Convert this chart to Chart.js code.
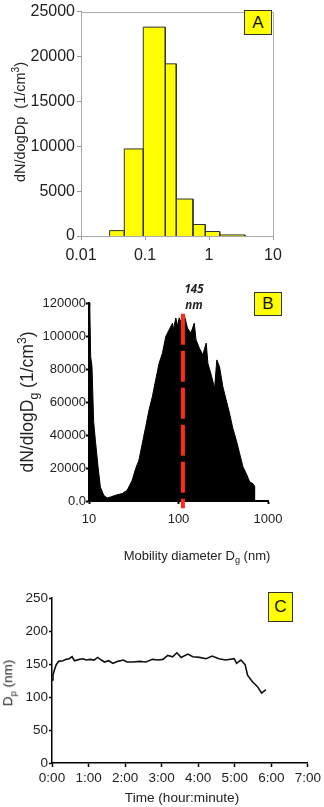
<!DOCTYPE html>
<html>
<head>
<meta charset="utf-8">
<script src="https://cdn.jsdelivr.net/npm/chart.js@4/dist/chart.umd.min.js"></script>
<style>
body{margin:0;background:#fff;width:324px;height:807px;position:relative;overflow:hidden;font-family:"Liberation Sans",Arial,sans-serif;color:#222}
.panel{position:absolute;left:0;width:324px}
.t{position:absolute;white-space:nowrap;line-height:1}
.rot{transform:translate(-50%,-50%) rotate(-90deg)}
.ctr{transform:translate(-50%,-50%)}
.box{position:absolute;background:#ffff00;border:1px solid #333;box-sizing:border-box;display:flex;align-items:center;justify-content:center;font-size:17px;color:#111}
sub,sup{font-size:70%;line-height:0}
</style>
</head>
<body>
<div class="panel" style="top:0;height:270px"><canvas id="chA" width="324" height="270"></canvas></div>
<div class="panel" style="top:270px;height:270px"><canvas id="chB" width="324" height="270"></canvas></div>
<div class="panel" style="top:540px;height:267px"><canvas id="chC" width="324" height="267"></canvas></div>

<div class="t rot" style="left:20px;top:122px;font-size:14.5px">dN/dogDp&nbsp; (1/cm<sup>3</sup>)</div>
<div class="box" style="left:244px;top:10px;width:28px;height:25px">A</div>

<div class="t rot" style="left:28px;top:402px;font-size:17.5px">dN/dlogD<sub>g</sub> (1/cm<sup>3</sup>)</div>
<div class="t ctr" style="left:197px;top:555px;font-size:13px">Mobility diameter D<sub>g</sub> (nm)</div>
<div class="t ctr" style="left:194px;top:289px;font-size:11.5px;font-weight:bold;font-style:italic;font-family:'Open Sans',sans-serif;color:#222">145</div>
<div class="t ctr" style="left:194px;top:305px;font-size:11.5px;font-weight:bold;font-style:italic;font-family:'Open Sans',sans-serif;color:#222">nm</div>
<div class="box" style="left:254px;top:292px;width:28px;height:24px">B</div>

<div class="t rot" style="left:8px;top:683px;font-size:13.5px">D<sub>p</sub> (nm)</div>
<div class="t ctr" style="left:182px;top:798px;font-size:13.6px">Time (hour:minute)</div>
<div class="box" style="left:268px;top:592px;width:25px;height:30px">C</div>

<script>
// panel A - size histogram (bin edges in um)
const aBinEdges=[0.028,0.0475,0.094,0.2075,0.308,0.562,0.875,1.47,3.65]
const aCounts=[600,9700,23270,19180,4120,1280,500,120]
const aXTicks=[0.01,0.1,1,10]
const aXLabels=["0.01","0.1","1","10"]

// panel B - SMPS distribution envelope
const bDiameter=[10,10.2,10.44,10.8,11.27,11.78,12.62,13.4,14.6,15.9,17.4,19.8,23.5,26.7,30.4,33.2,36.1,39.4,43,46.8,51,55.6,60.7,66.1,72.1,78.6,85.7,88,93.3,98,101.7,108,115.8,126,137.7,150,157,171,187,204,213,232,253,268,287,313,341,372,405,442,482,525,572,624,680,708,708]
const bCounts=[120000,118000,87600,81500,48000,36900,20700,8500,3500,1800,2400,3500,4500,6500,12600,19700,24700,34900,45000,55100,63200,73400,83500,89600,99700,103800,107800,104000,110900,106000,111000,108000,112900,104800,101800,107800,97700,92600,88600,95700,83500,76400,68300,85500,81500,69300,61200,53100,44000,36900,28800,20700,16600,11600,10500,9000,0]
const bXTicks=[10,100,1000]
const bXLabels=["10","100","1000"]
const bModeDiameter=112
const bModeLine=[113500,-4400]

// panel C - Dp vs time (minutes)
const cTime=[0,1.6,3.6,7,11,18,23,28,33,37,45,51,56,63,69,75,81,86,93,100,108,117,123,133,144,154,165,174,182,190,198,205,212,223,231,242,253,263,274,285,299,303,310,317,321,329,337,344,348,351]
const cDp=[126,133,140,149,154,155,157,158,161,155,157,158,156,157,156,160,156,153,155,151,154,156,153,153,154,153,157,156,157,163,161,167,160,165,161,160,158,162,158,156,158,151,156,149,133,123,116,106,109,111]

const FONT='"Liberation Sans", Arial, sans-serif'

const frame={
id:"frame",
afterDatasetsDraw(chart,args,opts){
if(!opts.color)return
const a=chart.chartArea,ctx=chart.ctx
ctx.save()
ctx.strokeStyle=opts.color
ctx.lineWidth=1
ctx.strokeRect(Math.round(a.left)+0.5,Math.round(a.top)+0.5,Math.round(a.right-a.left),Math.round(a.bottom-a.top))
ctx.restore()
}
}

function axis(o){
return {
type:o.type||"linear",
min:o.min,max:o.max,
afterBuildTicks:o.tickList?(s=>{s.ticks=o.tickList.map(v=>({value:v}))}):undefined,
afterFit:s=>{ if(o.width!=null)s.width=o.width; if(o.height!=null)s.height=o.height },
ticks:{
stepSize:o.step,
autoSkip:false,maxRotation:0,
padding:o.pad,
color:"#222",
font:{family:FONT,size:o.size},
callback:o.cb
},
grid:{drawOnChartArea:false,tickLength:o.tl,color:o.color,tickColor:o.color,tickWidth:o.lw},
border:{color:o.color,width:o.lw}
}
}

const base={
responsive:false,animation:false,devicePixelRatio:1,
plugins:{legend:{display:false},tooltip:{enabled:false}},
elements:{point:{radius:0}}
}

// A
const aSets=aCounts.map((v,i)=>({
data:[{x:aBinEdges[i],y:0},{x:aBinEdges[i],y:v},{x:aBinEdges[i+1],y:v},{x:aBinEdges[i+1],y:0}],
fill:"origin",backgroundColor:"#ffff00",borderColor:"#333",borderWidth:1,tension:0
}))

new Chart(document.getElementById("chA"),{
type:"line",
data:{datasets:aSets},
options:{...base,
layout:{padding:{left:0,top:7,right:51,bottom:0}},
plugins:{...base.plugins,frame:{color:"#aaa"}},
scales:{
x:axis({type:"logarithmic",min:0.01,max:10,tickList:aXTicks,cb:(v,i)=>aXLabels[i],size:16,pad:6,tl:4,color:"#999",lw:1,height:34}),
y:axis({min:0,max:25000,step:5000,size:16,pad:2,tl:4,color:"#999",lw:1,width:81})
}
},
plugins:[frame]
})

// B
new Chart(document.getElementById("chB"),{
type:"line",
data:{datasets:[
{data:bDiameter.map((d,i)=>({x:d,y:bCounts[i]})),fill:"origin",backgroundColor:"#000",borderColor:"#000",borderWidth:1,tension:0,order:2},
{data:bModeLine.map(v=>({x:bModeDiameter,y:v})),borderColor:"#ff2a1a",borderWidth:4,borderDash:[31,6],fill:false,clip:false,order:1}
]},
options:{...base,
layout:{padding:{left:0,top:33,right:56,bottom:0}},
scales:{
x:axis({type:"logarithmic",min:10,max:1000,tickList:bXTicks,cb:(v,i)=>bXLabels[i],size:13,pad:8,tl:3,color:"#000",lw:2,height:39}),
y:axis({min:0,max:120000,step:20000,cb:v=>v===0?"0.0":String(v),size:13,pad:0,tl:3,color:"#000",lw:2,width:89})
}
}
})

// C
new Chart(document.getElementById("chC"),{
type:"line",
data:{datasets:[
{data:cTime.map((t,i)=>({x:t,y:cDp[i]})),borderColor:"#111",borderWidth:1.6,fill:false,tension:0}
]},
options:{...base,
layout:{padding:{left:0,top:58,right:16,bottom:0}},
scales:{
x:axis({min:0,max:420,step:60,cb:v=>(v/60)+":00",size:13.5,pad:3,tl:4,color:"#000",lw:1.5,height:44}),
y:axis({min:0,max:250,step:50,size:13.5,pad:1,tl:3,color:"#000",lw:1.5,width:52})
}
}
})
</script>
</body>
</html>
